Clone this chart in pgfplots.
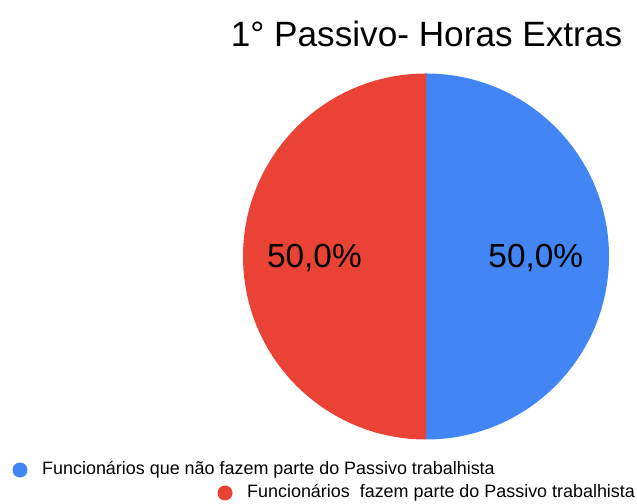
\documentclass[border=0pt]{standalone}
\usepackage{pgfplots}
\pgfplotsset{compat=1.18}
\usepackage{pgfplotstable}
\usepackage{fontspec}
\setmainfont{Liberation Sans}
\definecolor{gblue}{HTML}{4285F4}
\definecolor{gred}{HTML}{EA4335}
\pgfplotstableread{
label value
naofazem 50
fazem 50
}\piedata
\begin{document}
\begin{tikzpicture}[x=1bp,y=1bp]
\useasboundingbox (0,0) rectangle (637,504);
\pgfplotstablegetelem{0}{value}\of\piedata \let\va\pgfplotsretval
\pgfplotstablegetelem{1}{value}\of\piedata \let\vb\pgfplotsretval
\pgfmathsetmacro\total{\va+\vb}
\pgfmathsetmacro\fa{\va/\total}
\pgfmathsetmacro\fb{\vb/\total}
\pgfmathsetmacro\angA{90-360*\fa}
\pgfmathsetmacro\angB{\angA-360*\fb}
\pgfmathsetmacro\midA{(90+\angA)/2}
\pgfmathsetmacro\midB{(\angA+\angB)/2}
\pgfmathsetmacro\lxA{0.60*cos(\midA)}
\pgfmathsetmacro\lyA{0.60*sin(\midA)}
\pgfmathsetmacro\lxB{0.61*cos(\midB)}
\pgfmathsetmacro\lyB{0.61*sin(\midB)}
\pgfmathsetmacro\pa{100*\fa}
\pgfmathsetmacro\pb{100*\fb}
\begin{axis}[
  at={(426bp,247.5bp)}, anchor=center,
  width=366bp, height=366bp, scale only axis,
  xmin=-1, xmax=1, ymin=-1, ymax=1,
  hide axis, clip=false,
  /pgf/number format/assume math mode=true,
]
\fill[gblue] (axis cs:0,0) -- ++(90:183bp) arc[start angle=90, end angle=\angA, radius=183bp] -- cycle;
\fill[gred] (axis cs:0,0) -- ++(\angA:183bp) arc[start angle=\angA, end angle=\angB, radius=183bp] -- cycle;
\node[font=\fontsize{33.5}{38}\selectfont, anchor=base, yshift=-11.5bp, inner sep=0] at (axis cs:\lxA,\lyA) {\pgfmathprintnumber[fixed,fixed zerofill,precision=1,use comma,assume math mode=true]{\pa}\%};
\node[font=\fontsize{33.5}{38}\selectfont, anchor=base, yshift=-11.5bp, inner sep=0] at (axis cs:\lxB,\lyB) {\pgfmathprintnumber[fixed,fixed zerofill,precision=1,use comma,assume math mode=true]{\pb}\%};
\end{axis}
\node[anchor=base, font=\fontsize{35.3}{40}\selectfont, inner sep=0] at (426.5,457) {1° Passivo- Horas Extras};
\fill[gblue] (20,34) circle (7.5);
\node[anchor=base west, inner sep=0, font=\fontsize{18}{21}\selectfont] at (42,29) {Funcionários que não fazem parte do Passivo trabalhista};
\fill[gred] (225,11) circle (7.5);
\node[anchor=base west, inner sep=0, font=\fontsize{18}{21}\selectfont] at (247,6) {Funcionários\ \ fazem parte do Passivo trabalhista};
\end{tikzpicture}
\end{document}
